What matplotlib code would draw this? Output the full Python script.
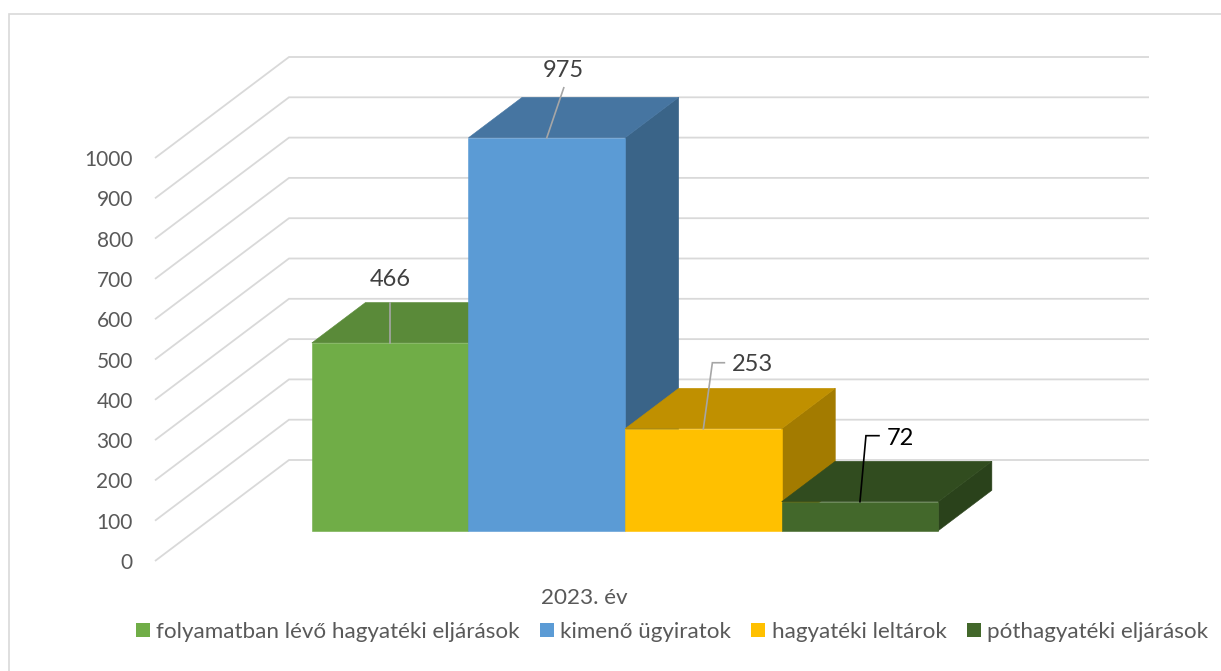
import matplotlib
matplotlib.use('Agg')
import matplotlib.pyplot as plt
from matplotlib.patches import Polygon, Rectangle, Patch

plt.rcParams['font.family'] = ['Lato', 'DejaVu Sans']

## Data
year = '2023. év'
names = ['folyamatban lévő hagyatéki eljárások', 'kimenő ügyiratok', 'hagyatéki leltárok', 'póthagyatéki eljárások']
values = [466, 975, 253, 72]
ticks = [0, 100, 200, 300, 400, 500, 600, 700, 800, 900, 1000]

## Colours: front, top, side
front_cols = ['#70AD47', '#5B9BD5', '#FFC000', '#43682B']
top_cols = ['#5A8A39', '#4675A1', '#C09000', '#314C1F']
side_cols = ['#43682B', '#3A6488', '#A37B00', '#2A421B']
label_cols = ['#404040', '#404040', '#404040', '#000000']
line_cols = ['#A6A6A6', '#A6A6A6', '#A6A6A6', '#000000']

W, H = 1221, 671
fig = plt.figure(figsize=(W / 100, H / 100), dpi=100)
fig.add_artist(Rectangle((9 / W, -0.01), 1.1, 1 - 14 / H + 0.01, transform=fig.transFigure,
                         fill=False, ec='#D9D9D9', lw=1.2))

# axes box is the whole 3d wall area, one x unit = one bar width
ax = fig.add_axes([155 / W, 1 - 561 / H, (1149 - 155) / W, (561 - 57) / H])
px_x = 156.6
px_v = 0.403
DX = 134 / px_x
DV = 101 / px_v
xmax = (1149 - 155) / px_x
ax.set_xlim(0, xmax)
ax.set_ylim(0, 1000 + DV)
for s in ax.spines.values():
    s.set_visible(False)


def proj(x, v, d):
    return (x + d * DX, v + d * DV)


# walls
for t in ticks:
    ax.plot([0, DX, xmax], [t, t + DV, t + DV], color='#D9D9D9', lw=1.3, zorder=1,
            solid_joinstyle='miter', solid_capstyle='butt', clip_on=False)

# bars, depth goes from 0.3 to 0.7 of the floor
d0, d1 = 0.3, 0.7
x_start = 0.745
for i, val in enumerate(values):
    x0, x1 = x_start + i, x_start + i + 1
    side = [proj(x1, 0, d0), proj(x1, 0, d1), proj(x1, val, d1), proj(x1, val, d0)]
    top = [proj(x0, val, d0), proj(x1, val, d0), proj(x1, val, d1), proj(x0, val, d1)]
    face = [proj(x0, 0, d0), proj(x1, 0, d0), proj(x1, val, d0), proj(x0, val, d0)]
    z = 3 + i
    ax.add_patch(Polygon(side, fc=side_cols[i], ec=side_cols[i], lw=0.4, zorder=z))
    ax.add_patch(Polygon(top, fc=top_cols[i], ec=top_cols[i], lw=0.4, zorder=z))
    ax.add_patch(Polygon(face, fc=front_cols[i], ec=front_cols[i], lw=0.4, zorder=z))

# data labels with leader lines, offsets in pixels from top of front face
leaders = [[(0, 0), (0, 40)],
           [(0, 0), (17, 50)],
           [(0, 0), (9, 66), (21, 66)],
           [(0, 0), (6, 66), (19, 66)]]
label_off = [(0, 63.5), (17, 67), (49, 64.5), (40, 63.5)]
for i, val in enumerate(values):
    cx, cy = proj(x_start + i + 0.5, val, d0)
    xs = [cx + p[0] / px_x for p in leaders[i]]
    ys = [cy + p[1] / px_v for p in leaders[i]]
    ax.plot(xs, ys, color=line_cols[i], lw=1.2, zorder=10, solid_joinstyle='miter')
    ax.text(cx + label_off[i][0] / px_x, cy + label_off[i][1] / px_v, str(val), color=label_cols[i],
            fontsize=17, ha='center', va='center', zorder=11)

ax.set_yticks(ticks)
ax.set_xticks([(584 - 155) / px_x], [year])
ax.tick_params(axis='y', length=0, pad=16, labelsize=15, labelcolor='#595959')
ax.tick_params(axis='x', length=0, pad=19.2, labelsize=16.2, labelcolor='#595959')

handles = [Patch(fc=c, ec='none') for c in front_cols]
fig.legend(handles, names, ncol=4, loc='center', bbox_to_anchor=(672 / W, 1 - 632 / H), frameon=False,
           fontsize=16.1, labelcolor='#595959', handlelength=0.63, handleheight=0.63,
           handletextpad=0.27, columnspacing=0.9)

fig.savefig('out.png', dpi=100)
